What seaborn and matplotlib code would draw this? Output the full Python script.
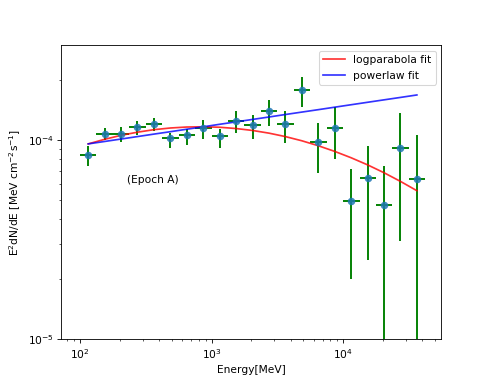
import matplotlib
matplotlib.use("Agg")
import matplotlib.pyplot as plt
import seaborn as sns
import numpy as np
import pandas as pd

# SED points (Epoch A)
energy = [115.5, 154.0, 205.0, 273.5, 364.5, 486.0, 648.0, 864.0, 1152.0, 1536.0, 2048.0,
          2730.0, 3640.0, 4855.0, 6475.0, 8630.0, 11510.0, 15350.0, 20470.0, 27300.0, 36400.0]
bin_edges = [100, 133.4, 177.8, 237.1, 316.2, 421.7, 562.3, 749.9, 1000, 1333, 1778,
             2371, 3162, 4217, 5623, 7499, 10000, 13335, 17783, 23714, 31623, 42170]
flux = [8.42e-5, 10.67e-5, 10.67e-5, 11.57e-5, 11.97e-5, 10.15e-5, 10.59e-5, 11.43e-5,
        10.43e-5, 12.47e-5, 11.83e-5, 13.94e-5, 12.02e-5, 17.86e-5, 9.74e-5, 11.51e-5,
        4.90e-5, 6.40e-5, 4.71e-5, 9.09e-5, 6.33e-5]
flux_err_lo = [1.0e-5, 0.75e-5, 0.9e-5, 1.0e-5, 0.95e-5, 1.05e-5, 1.2e-5, 1.35e-5, 1.3e-5,
               1.6e-5, 1.8e-5, 2.2e-5, 2.4e-5, 3.2e-5, 2.9e-5, 3.55e-5, 2.9e-5, 3.9e-5,
               4.5e-5, 6.0e-5, 6.0e-5]
flux_err_hi = [0.9e-5, 0.75e-5, 0.85e-5, 0.9e-5, 0.85e-5, 0.7e-5, 0.75e-5, 1.15e-5, 0.9e-5,
               1.5e-5, 1.55e-5, 1.85e-5, 1.9e-5, 2.85e-5, 2.45e-5, 3.15e-5, 2.25e-5, 2.85e-5,
               2.7e-5, 4.5e-5, 4.25e-5]

# fitted model curves, read at the point energies
logparabola = [9.53e-5, 10.05e-5, 10.52e-5, 10.91e-5, 11.23e-5, 11.45e-5, 11.58e-5,
               11.61e-5, 11.55e-5, 11.38e-5, 11.13e-5, 10.79e-5, 10.37e-5, 9.88e-5,
               9.33e-5, 8.74e-5, 8.12e-5, 7.48e-5, 6.83e-5, 6.18e-5, 5.55e-5]
powerlaw = [9.53e-5, 9.80e-5, 10.08e-5, 10.37e-5, 10.67e-5, 10.97e-5, 11.29e-5, 11.61e-5,
            11.95e-5, 12.29e-5, 12.64e-5, 13.00e-5, 13.38e-5, 13.76e-5, 14.15e-5,
            14.56e-5, 14.98e-5, 15.41e-5, 15.85e-5, 16.30e-5, 16.77e-5]

fig, ax = plt.subplots(figsize=(6.4, 4.98), dpi=76.56)

edges = np.array(bin_edges)
e = np.array(energy)
xerr = [e - edges[:-1], edges[1:] - e]
ax.errorbar(energy, flux, xerr=xerr, yerr=[flux_err_lo, flux_err_hi],
            fmt='none', ecolor='green', elinewidth=1.8, zorder=2)

pts = pd.DataFrame({'energy': energy, 'flux': flux})
sns.scatterplot(data=pts, x='energy', y='flux', color='C0', s=50, linewidth=0,
                alpha=0.85, ax=ax, zorder=3)

fits = pd.DataFrame({'energy': energy, 'logparabola': logparabola, 'powerlaw': powerlaw})
sns.lineplot(data=fits, x='energy', y='logparabola', color='red', alpha=0.8, lw=1.6,
             label='logparabola fit', ax=ax)
sns.lineplot(data=fits, x='energy', y='powerlaw', color='blue', alpha=0.8, lw=1.6,
             label='powerlaw fit', ax=ax)

ax.set_xscale('log')
ax.set_yscale('log')
ax.set_xlim(72, 55500)
ax.set_ylim(1e-5, 2.97e-4)
ax.text(360, 6.27e-5, '(Epoch A)', ha='center', va='center')
ax.set_xlabel('Energy[MeV]')
ax.set_ylabel('E$^2$dN/dE [MeV cm$^{-2}$s$^{-1}$]')
ax.legend(loc='upper right')

fig.savefig('out.png')
